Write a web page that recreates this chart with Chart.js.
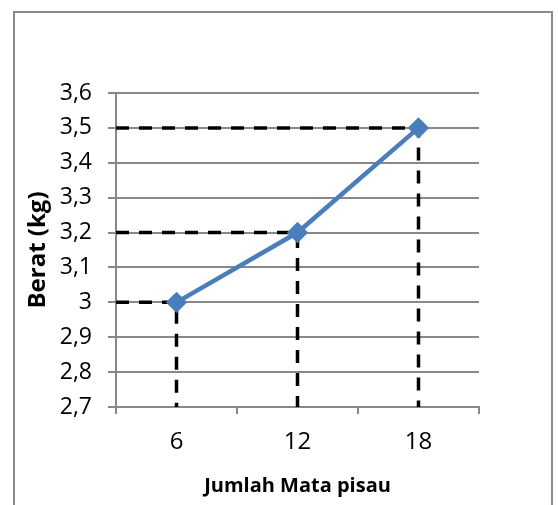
<!DOCTYPE html>
<html>
<head>
<meta charset="utf-8">
<script src="https://cdn.jsdelivr.net/npm/chart.js@4.4.1/dist/chart.umd.min.js"></script>
<style>
  html, body { margin: 0; padding: 0; background: #fff; }
  #wrap { position: relative; width: 558px; height: 505px; overflow: hidden; }
  #frame { position: absolute; left: 13px; top: 11px; width: 540px; height: 520px; border: 2px solid #8a8a8a; box-sizing: border-box; pointer-events: none; }
  canvas { position: absolute; left: 0; top: 0; }
</style>
</head>
<body>
<div id="wrap">
  <canvas id="c" width="558" height="505"></canvas>
  <div id="frame"></div>
</div>
<script>
const categories = [6, 12, 18];
const berat = [3.0, 3.2, 3.5];
const xTitle = 'Jumlah Mata pisau';
const yTitle = 'Berat (kg)';
const yMin = 2.7, yMax = 3.6, yStep = 0.1;
const xMin = 3, xMax = 21, xStep = 3;

const mainData = categories.map((c, i) => ({x: c, y: berat[i]}));
const guideSets = categories.map((c, i) => ({
  data: [{x: xMin, y: berat[i]}, {x: c, y: berat[i]}, {x: c, y: yMin}],
  borderColor: '#000',
  borderWidth: 3.5,
  borderDash: [13, 10],
  pointRadius: 0,
  fill: false,
  tension: 0,
  order: 2
}));

const FONT = "'Open Sans', 'Noto Sans', sans-serif";
const GRID = '#888888';

new Chart(document.getElementById('c'), {
  type: 'line',
  data: {
    datasets: [
      {
        data: mainData,
        borderColor: '#4a7ebb',
        backgroundColor: '#4a7ebb',
        borderWidth: 4.5,
        pointStyle: 'rectRot',
        pointRadius: 7.5,
        pointBackgroundColor: '#4a7ebb',
        pointBorderColor: '#4a7ebb',
        tension: 0,
        order: 1
      },
      ...guideSets
    ]
  },
  options: {
    responsive: false,
    animation: false,
    events: [],
    layout: { padding: { left: 0, right: 79, top: 93, bottom: 0 } },
    plugins: { legend: { display: false }, tooltip: { enabled: false } },
    scales: {
      x: {
        type: 'linear',
        min: xMin, max: xMax,
        afterFit: s => { s.height = 98; },
        ticks: {
          stepSize: xStep,
          autoSkip: false,
          maxRotation: 0,
          padding: 14,
          color: '#000',
          font: { family: FONT, size: 24 },
          callback: v => categories.includes(v) ? String(v) : ''
        },
        grid: {
          drawOnChartArea: false,
          drawTicks: true,
          tickLength: 7,
          lineWidth: 2,
          tickColor: ctx => (ctx.tick && categories.includes(ctx.tick.value)) ? 'rgba(0,0,0,0)' : GRID,
          color: GRID
        },
        border: { display: true, color: GRID, width: 2 },
        title: {
          display: true, text: xTitle, color: '#000',
          font: { family: FONT, size: 20, weight: 'bold' },
          padding: { top: 0, bottom: 7 }
        }
      },
      y: {
        min: yMin, max: yMax,
        afterFit: s => { s.width = 116; },
        ticks: {
          stepSize: yStep,
          padding: 16,
          color: '#000',
          font: { family: FONT, size: 23 },
          callback: v => String(Number(v.toFixed(1))).replace('.', ',')
        },
        grid: {
          color: GRID,
          lineWidth: 2,
          drawTicks: true,
          tickLength: 8
        },
        border: { display: true, color: GRID, width: 2 },
        title: {
          display: true, text: yTitle, color: '#000',
          font: { family: FONT, size: 24, weight: 'bold' },
          padding: { top: 24, bottom: 0 }
        }
      }
    }
  }
});
</script>
</body>
</html>
